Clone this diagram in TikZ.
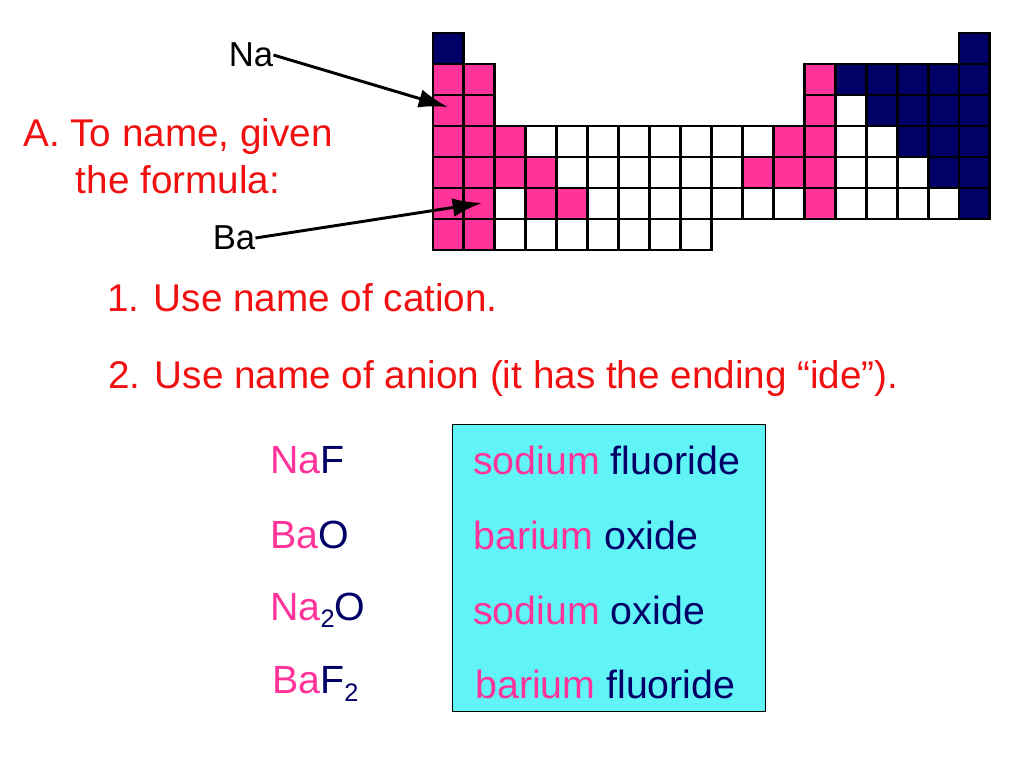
\documentclass[tikz,border=0pt]{standalone}
\usepackage{fontspec}
\setmainfont{Liberation Sans}
\usetikzlibrary{arrows.meta}
\definecolor{pk}{HTML}{FF3399}
\definecolor{nv}{HTML}{000066}
\definecolor{rd}{HTML}{F01010}
\definecolor{cy}{HTML}{60F4F6}
\begin{document}
\begin{tikzpicture}[x=0.75pt,y=-0.75pt,
  txt/.style={font=\fontsize{29}{35}\selectfont,inner sep=0pt},
  lbl/.style={font=\fontsize{29.5}{34}\selectfont,inner sep=0pt,anchor=west},
  cell/.style={draw=black,line width=2.2pt},
  arr/.style={-{Latex[length=22pt,width=14pt]},line width=2.2pt}]
\useasboundingbox (0,0) rectangle (1024,768);
\def\cw{30.94}\def\ch{31}
\newcommand\pcells[3]{%
  \foreach \i in {#3}
    \filldraw[cell,fill=#1] ({433+(\i-1)*\cw},{33+(#2-1)*\ch}) rectangle ++(\cw,\ch);}
\pcells{nv}{1}{1,18}
\pcells{pk}{2}{1,2,13}\pcells{nv}{2}{14,15,16,17,18}
\pcells{pk}{3}{1,2,13}\pcells{white}{3}{14}\pcells{nv}{3}{15,16,17,18}
\pcells{pk}{4}{1,2,3,12,13}\pcells{white}{4}{4,...,11,14,15}\pcells{nv}{4}{16,17,18}
\pcells{pk}{5}{1,2,3,4,11,12,13}\pcells{white}{5}{5,...,10,14,15,16}\pcells{nv}{5}{17,18}
\pcells{pk}{6}{1,2,4,5,13}\pcells{white}{6}{3,6,7,8,9,10,11,12,14,15,16,17}\pcells{nv}{6}{18}
\pcells{pk}{7}{1,2}\pcells{white}{7}{3,...,9}
\coordinate (naT) at (448,107);
\coordinate (baT) at (482,203);
\node[font=\fontsize{26}{30}\selectfont,inner sep=0pt] (na) at (251,55) {Na};
\node[font=\fontsize{26}{30}\selectfont,inner sep=0pt] (ba) at (234,238) {Ba};
\draw[arr] (na.east) -- (naT);
\draw[arr] (ba.east) -- (baT);
\node[txt,text=rd,align=center] (a) at (178,156) {A. To name, given\\the formula:};
\node[txt,text=rd,anchor=west] (s1) at (107,298) {1. Use name of cation.};
\node[txt,text=rd,anchor=west] (s2) at (108,378) {2. Use name of anion (it has the ending “ide”).};
\node[draw=black,fill=cy,line width=0.6pt,minimum width=313*0.75pt,minimum height=287*0.75pt,anchor=north west,inner sep=0pt] (box) at (452,424) {};
\node[lbl] (f1) at (270,460) {\textcolor{pk}{Na}\textcolor{nv}{F}};
\node[lbl] (f2) at (270,535) {\textcolor{pk}{Ba}\textcolor{nv}{O}};
\node[lbl] (f3) at (270,610) {\textcolor{pk}{Na}\raisebox{-0.35ex}{\fontsize{19}{22}\selectfont\textcolor{nv}{2}}\textcolor{nv}{O}};
\node[lbl] (f4) at (272,684) {\textcolor{pk}{Ba}\textcolor{nv}{F}\raisebox{-0.35ex}{\fontsize{19}{22}\selectfont\textcolor{nv}{2}}};
\node[lbl] (n1) at (473,460) {\textcolor{pk}{sodium} \textcolor{nv}{fluoride}};
\node[lbl] (n2) at (473,535) {\textcolor{pk}{barium} \textcolor{nv}{oxide}};
\node[lbl] (n3) at (473,610) {\textcolor{pk}{sodium} \textcolor{nv}{oxide}};
\node[lbl] (n4) at (475,684) {\textcolor{pk}{barium} \textcolor{nv}{fluoride}};
\end{tikzpicture}
\end{document}
